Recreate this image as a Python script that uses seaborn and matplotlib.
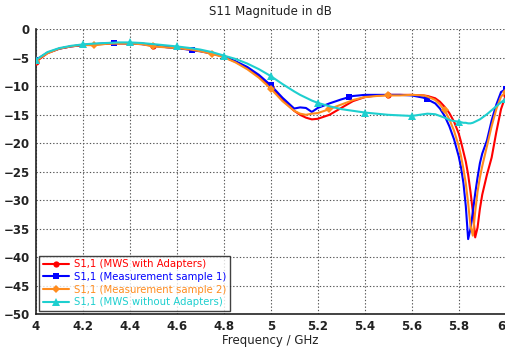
import numpy as np
import pandas as pd
import matplotlib
matplotlib.use("Agg")
import matplotlib.pyplot as plt
import seaborn as sns

freq = [4.00, 4.05, 4.10, 4.15, 4.20, 4.25, 4.30, 4.333, 4.35, 4.40, 4.45, 4.50, 4.55, 4.60, 4.65, 4.667,
        4.70, 4.75, 4.80, 4.85, 4.90, 4.95, 5.00, 5.05, 5.10, 5.125, 5.15, 5.175, 5.20, 5.25, 5.30, 5.333,
        5.35, 5.40, 5.45, 5.50, 5.55, 5.60, 5.65, 5.667, 5.70, 5.72, 5.74, 5.76, 5.78, 5.80, 5.81, 5.82,
        5.83, 5.84, 5.85, 5.86, 5.87, 5.88, 5.89, 5.90, 5.92, 5.94, 5.96, 5.98, 6.00]

mws_with = [-5.7, -4.2, -3.4, -3.0, -2.8, -2.65, -2.55, -2.5, -2.5, -2.45, -2.45, -2.85, -3.1, -3.3, -3.5, -3.6,
            -3.8, -4.2, -4.8, -5.7, -6.8, -8.3, -10.1, -12.4, -14.3, -15.0, -15.5, -15.8, -15.7, -15.0, -13.8, -13.0,
            -12.6, -11.9, -11.6, -11.5, -11.5, -11.5, -11.6, -11.7, -12.1, -12.7, -13.6, -14.7, -16.2, -18.3, -19.8, -21.5,
            -23.2, -25.5, -28.5, -32.0, -36.5, -34.8, -31.5, -29.0, -25.5, -22.5, -18.0, -14.0, -11.6]

meas_1 = [-5.4, -4.1, -3.4, -3.0, -2.75, -2.6, -2.45, -2.35, -2.4, -2.5, -2.6, -2.9, -3.1, -3.3, -3.55, -3.7,
          -3.85, -4.25, -4.8, -5.6, -6.6, -8.0, -9.8, -12.0, -13.9, -13.7, -13.8, -14.5, -13.8, -13.0, -12.3, -11.9,
          -11.7, -11.5, -11.5, -11.5, -11.5, -11.6, -12.0, -12.3, -13.0, -13.9, -15.2, -17.0, -19.3, -22.3, -24.3, -27.0,
          -31.0, -36.8, -35.0, -32.0, -28.8, -26.0, -23.5, -21.8, -19.5, -16.0, -13.2, -11.0, -10.5]

meas_2 = [-5.5, -4.2, -3.4, -3.0, -2.75, -2.8, -2.55, -2.5, -2.5, -2.5, -2.6, -3.0, -3.15, -3.3, -3.5, -3.6,
          -3.85, -4.3, -4.9, -5.8, -7.0, -8.5, -10.4, -12.6, -14.3, -14.8, -15.0, -14.8, -14.7, -14.0, -13.2, -12.7,
          -12.4, -11.9, -11.7, -11.6, -11.6, -11.5, -11.6, -11.8, -12.4, -13.2, -14.2, -15.8, -17.8, -20.5, -22.3, -24.5,
          -27.0, -30.5, -34.5, -36.2, -32.0, -28.5, -26.0, -24.0, -20.5, -17.0, -14.0, -11.8, -11.0]

mws_without = [-5.4, -4.0, -3.3, -2.9, -2.65, -2.5, -2.4, -2.35, -2.3, -2.3, -2.4, -2.6, -2.8, -3.0, -3.25, -3.35,
               -3.55, -4.0, -4.6, -5.2, -6.0, -7.0, -8.2, -9.6, -10.9, -11.5, -12.0, -12.5, -12.9, -13.5, -14.0, -14.2,
               -14.3, -14.6, -14.8, -15.0, -15.1, -15.2, -14.9, -14.8, -14.9, -15.2, -15.5, -15.9, -16.1, -16.2, -16.3, -16.4,
               -16.4, -16.5, -16.5, -16.4, -16.2, -16.0, -15.8, -15.5, -14.9, -14.2, -13.5, -12.8, -12.2]

labels = ["S1,1 (MWS with Adapters)", "S1,1 (Measurement sample 1)",
          "S1,1 (Measurement sample 2)", "S1,1 (MWS without Adapters)"]
marker_freqs = [
    [4.0, 4.5, 5.0, 5.5, 6.0],
    [4.0, 4.333, 4.667, 5.0, 5.333, 5.667, 6.0],
    [4.0, 4.25, 4.5, 4.75, 5.0, 5.25, 5.5, 5.74, 6.0],
    [4.0, 4.2, 4.4, 4.6, 4.8, 5.0, 5.2, 5.4, 5.6, 5.8, 6.0],
]
x_ticks = [4, 4.2, 4.4, 4.6, 4.8, 5, 5.2, 5.4, 5.6, 5.8, 6]
x_ticklabels = ["4", "4.2", "4.4", "4.6", "4.8", "5", "5.2", "5.4", "5.6", "5.8", "6"]
y_ticks = list(range(-50, 1, 5))

colors = ["#ff0000", "#0000ff", "#ff8c1e", "#1ecfcf"]
markers = ["o", "s", "D", "^"]
msizes = [4.5, 5, 4.5, 5.5]

sns.set_theme(style="white")
plt.rcParams["font.family"] = ["DejaVu Sans"]

fig = plt.figure(figsize=(5.06, 3.51), dpi=100)
ax = fig.add_axes([0.0705, 0.1045, 0.929, 0.812])

series = [mws_with, meas_1, meas_2, mws_without]
fr = np.array(freq)
for vals, lab, col, mk, ms, mf in zip(series, labels, colors, markers, msizes, marker_freqs):
    df = pd.DataFrame({"f": freq, "v": vals})
    idx = [int(np.argmin(np.abs(fr - m))) for m in mf]
    sns.lineplot(data=df, x="f", y="v", ax=ax, color=col, lw=1.5, marker=mk,
                 markersize=ms, markeredgewidth=0, markevery=idx, label=lab,
                 estimator=None, sort=False, zorder=3)

ax.set_xlim(4, 6)
ax.set_ylim(-50, 0)
ax.set_xticks(x_ticks)
ax.set_xticklabels(x_ticklabels)
ax.set_yticks(y_ticks)
ax.tick_params(axis="both", labelsize=8.5, length=0, pad=4, colors="#222222")
for t in ax.get_xticklabels() + ax.get_yticklabels():
    t.set_fontweight("bold")
ax.get_xticklabels()[-1].set_horizontalalignment("right")
ax.grid(True, color="#555555", linestyle=(0, (1.2, 1.8)), linewidth=0.8)
for s in ["top", "right"]:
    ax.spines[s].set_visible(False)
for s in ["left", "bottom"]:
    ax.spines[s].set_color("#222222")
    ax.spines[s].set_linewidth(1.2)

ax.set_xlabel("Frequency / GHz", fontsize=8.5, color="#222222", labelpad=1)
ax.set_ylabel("")
ax.set_title("S11 Magnitude in dB", fontsize=8.5, color="#222222", pad=10)

leg = ax.legend(loc="lower left", bbox_to_anchor=(0.0, 0.0), bbox_transform=ax.transAxes,
                borderaxespad=0.35, fontsize=7.3,
                frameon=True, fancybox=False, edgecolor="#111111", labelcolor="linecolor",
                handlelength=2.6, borderpad=0.35, labelspacing=0.26, handletextpad=0.5)
leg.get_frame().set_linewidth(1.0)

fig.savefig("out.png", dpi=100)
